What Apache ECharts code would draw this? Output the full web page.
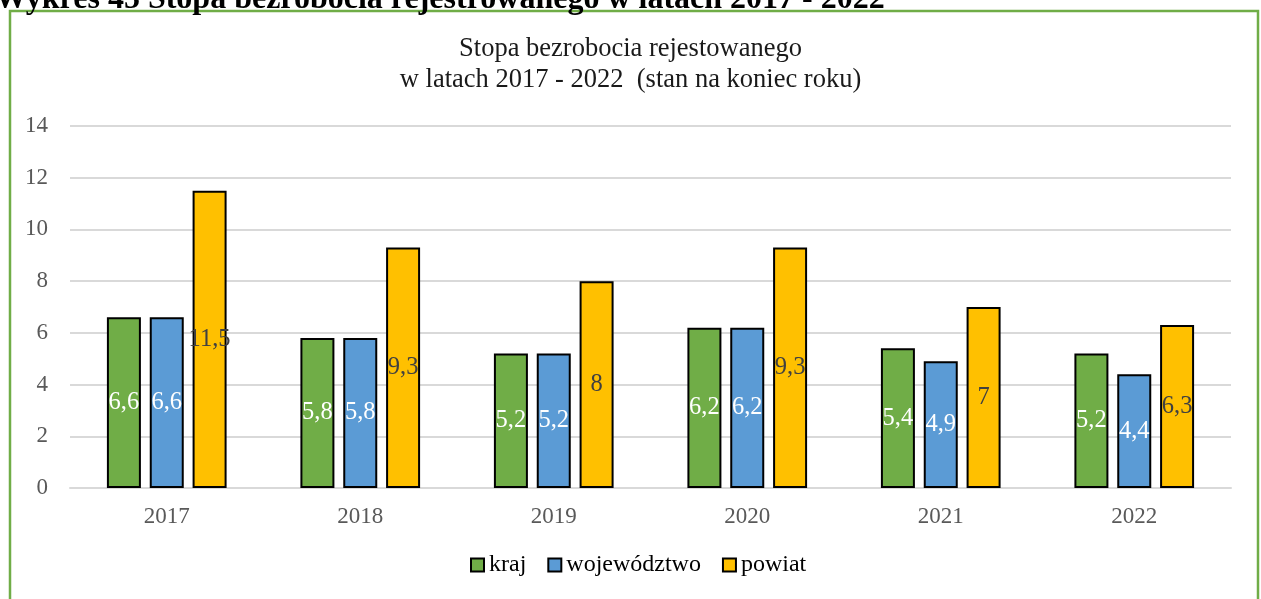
<!DOCTYPE html>
<html>
<head>
<meta charset="utf-8">
<script src="https://cdn.jsdelivr.net/npm/echarts@6/dist/echarts.min.js"></script>
<style>
  html, body { margin: 0; padding: 0; background: #ffffff; }
  #chart { width: 1261px; height: 599px; }
</style>
</head>
<body>
<div id="chart"></div>
<script>
// Registered unemployment rate, end of year (%)
const years = ['2017', '2018', '2019', '2020', '2021', '2022'];
const kraj = [6.6, 5.8, 5.2, 6.2, 5.4, 5.2];
const wojewodztwo = [6.6, 5.8, 5.2, 6.2, 4.9, 4.4];
const powiat = [11.5, 9.3, 8, 9.3, 7, 6.3];
const seriesNames = ['kraj', 'województwo', 'powiat'];
const yTicks = { min: 0, max: 14, interval: 2 };

const SERIF = '"Liberation Serif", "DejaVu Serif", serif';
const fmt = p => String(p.value).replace('.', ',');

const chart = echarts.init(document.getElementById('chart'));

function barSeries(name, data, color, labelColor) {
  return {
    name: name,
    type: 'bar',
    data: data,
    barWidth: 34,
    barGap: '26%',
    itemStyle: { color: color, borderColor: '#000000', borderWidth: 2 },
    label: {
      show: true,
      position: 'inside',
      formatter: fmt,
      color: labelColor,
      fontFamily: SERIF,
      fontSize: 24.5
    }
  };
}

chart.setOption({
  animation: false,
  backgroundColor: '#ffffff',
  title: {
    text: 'Stopa bezrobocia rejestowanego\nw latach 2017 - 2022  (stan na koniec roku)',
    left: 'center',
    top: 29,
    textStyle: {
      fontFamily: SERIF,
      fontSize: 26.5,
      fontWeight: 'normal',
      color: '#1a1a1a',
      lineHeight: 31
    }
  },
  legend: {
    bottom: 17,
    left: 465,
    itemWidth: 13,
    itemHeight: 13,
    itemGap: 21,
    icon: 'rect',
    textStyle: { fontFamily: SERIF, fontSize: 24, color: '#000000' },
    data: seriesNames.map(n => ({ name: n, itemStyle: { borderColor: '#000000', borderWidth: 2 } }))
  },
  grid: { left: 70, right: 30, top: 126, bottom: 111, containLabel: false },
  xAxis: {
    type: 'category',
    data: years,
    axisLine: { lineStyle: { color: '#d9d9d9', width: 2 } },
    axisTick: { show: false },
    axisLabel: { fontFamily: SERIF, fontSize: 23, color: '#595959', margin: 17 }
  },
  yAxis: {
    type: 'value',
    min: yTicks.min,
    max: yTicks.max,
    interval: yTicks.interval,
    axisLine: { show: false },
    axisTick: { show: false },
    splitLine: { lineStyle: { color: '#d9d9d9', width: 2 } },
    axisLabel: { fontFamily: SERIF, fontSize: 23, color: '#595959', margin: 22 }
  },
  series: [
    barSeries(seriesNames[0], kraj, '#70AD47', '#ffffff'),
    barSeries(seriesNames[1], wojewodztwo, '#5B9BD5', '#ffffff'),
    barSeries(seriesNames[2], powiat, '#FFC000', '#404040')
  ],
  graphic: [
    {
      type: 'rect',
      shape: { x: 10, y: 11, width: 1248, height: 600 },
      style: { fill: null, stroke: '#70AD47', lineWidth: 2.5 },
      silent: true,
      z: -1
    },
    {
      type: 'text',
      x: -5,
      y: -16,
      style: {
        text: 'Wykres 45 Stopa bezrobocia rejestrowanego w latach 2017 - 2022',
        fontFamily: SERIF,
        fontSize: 32,
        fontWeight: 'bold',
        fill: '#000000'
      },
      silent: true
    }
  ]
});
</script>
</body>
</html>
